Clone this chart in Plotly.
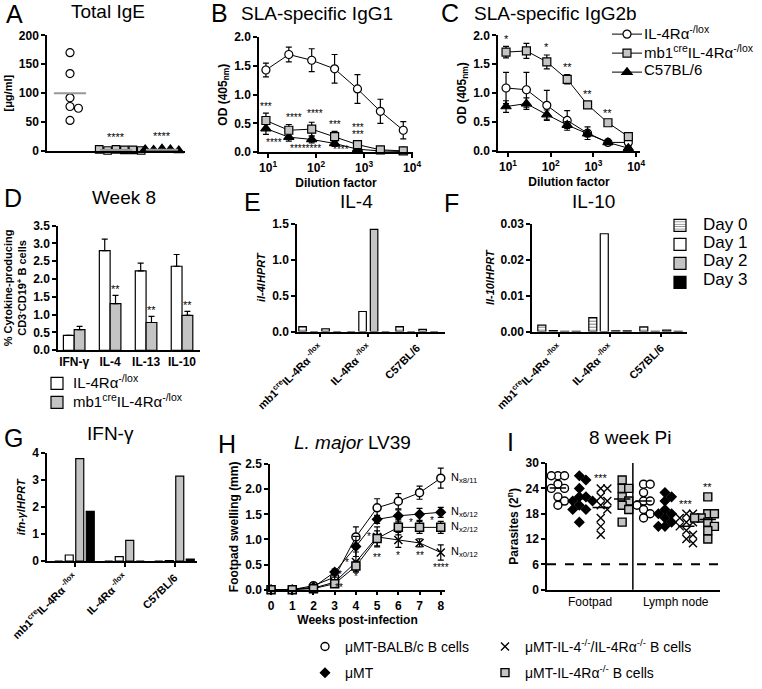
import numpy as np
import plotly.graph_objects as go

W, H = 762, 689
FONT = "Liberation Sans, Arial, sans-serif"
GREY = "#c4c4c4"

# A - total IgE (ug/ml)
ige_lox = [170, 134, 92, 77, 74, 53]
ige_mb1 = [3, 2, 1, 2, 3, 1]
ige_b6 = [4, 3, 2, 1, 3, 2]

# B / C - SLA specific IgG, OD 405nm vs dilution
dilution = [9, 27, 81, 243, 729, 2187, 6561]
igg1_lox = [1.43, 1.70, 1.60, 1.45, 1.10, 0.71, 0.38]
igg1_lox_err = [0.12, 0.13, 0.20, 0.25, 0.25, 0.21, 0.15]
igg1_mb1 = [0.55, 0.38, 0.40, 0.27, 0.13, 0.04, 0.02]
igg1_mb1_err = [0.13, 0.10, 0.12, 0.09, 0.05, 0.02, 0.01]
igg1_b6 = [0.41, 0.26, 0.22, 0.15, 0.05, 0.02, 0.01]
igg1_b6_err = [0.10, 0.07, 0.06, 0.05, 0.03, 0.01, 0.01]

igg2b_lox = [1.09, 1.06, 0.79, 0.53, 0.31, 0.15, 0.15]
igg2b_lox_err = [0.27, 0.30, 0.26, 0.17, 0.11, 0.04, 0.07]
igg2b_mb1 = [1.71, 1.73, 1.54, 1.24, 0.80, 0.49, 0.25]
igg2b_mb1_err = [0.10, 0.13, 0.12, 0.08, 0.05, 0.03, 0.03]
igg2b_b6 = [0.77, 0.82, 0.63, 0.45, 0.30, 0.15, 0.05]
igg2b_b6_err = [0.10, 0.10, 0.08, 0.06, 0.05, 0.03, 0.03]
igg2b_stars = ["*", "", "*", "**", "**", "**", ""]
genotypes = ["IL-4Rα<sup>-/lox</sup>", "mb1<sup>cre</sup>IL-4Rα<sup>-/lox</sup>", "C57BL/6"]

# D - week 8 cytokine producing B cells (%)
cytokines = ["IFN-γ", "IL-4", "IL-13", "IL-10"]
d_lox = [0.42, 2.80, 2.23, 2.36]
d_lox_err = [0.0, 0.32, 0.22, 0.33]
d_mb1 = [0.58, 1.31, 0.78, 0.98]
d_mb1_err = [0.09, 0.23, 0.17, 0.11]
d_stars = ["", "**", "**", "**"]

# E/F/G - qPCR relative to HPRT
strains = ["mb1<sup>cre</sup>IL-4Rα<sup> -/lox</sup>", "IL-4Rα<sup> -/lox</sup>", "C57BL/6"]
days = ["Day 0", "Day 1", "Day 2", "Day 3"]
il4 = [[0.07, 0.0, 0.07], [0.0, 0.28, 0.0], [0.04, 1.42, 0.03], [0.0, 0.0, 0.0]]
il10 = [[0.0018, 0.0039, 0.0013], [0.0003, 0.0272, 0.0001],
        [0.0001, 0.0002, 0.0004], [0.0001, 0.0002, 0.0001]]
ifng = [[0.0, 0.0, 0.0], [0.23, 0.17, 0.02], [3.80, 0.77, 3.15], [1.85, 0.0, 0.08]]

# H - footpad swelling (mm)
weeks = [0, 1, 2, 3, 4, 5, 6, 7, 8]
h_balb = [0, 0, 0.08, 0.25, 1.05, 1.63, 1.76, 1.93, 2.22]
h_balb_err = [0, 0, 0.03, 0.08, 0.20, 0.18, 0.15, 0.13, 0.20]
h_umt = [0, 0, 0.05, 0.35, 0.86, 1.40, 1.47, 1.50, 1.54]
h_umt_err = [0, 0, 0.02, 0.06, 0.20, 0.08, 0.12, 0.12, 0.10]
h_dko = [0, 0, 0.03, 0.15, 0.55, 1.05, 0.99, 0.93, 0.74]
h_dko_err = [0, 0, 0.02, 0.10, 0.20, 0.20, 0.15, 0.08, 0.15]
h_r = [0, 0, 0.02, 0.12, 0.47, 1.02, 1.24, 1.24, 1.24]
h_r_err = [0, 0, 0.02, 0.05, 0.10, 0.15, 0.15, 0.12, 0.12]
h_n = ["x8/11", "x6/12", "x0/12", "x2/12"]

# I - parasite burden (2^n), footpad then lymph node
fp_balb = [27, 27, 27, 25, 24, 24, 22, 21, 20]
fp_umt = [27, 26, 24, 22, 22, 21, 21, 20, 19, 19, 16]
fp_dko = [24, 24, 22, 21, 20, 19, 17, 15, 13]
fp_r = [26, 24, 24, 22, 21, 20, 19, 16]
ln_balb = [25, 25, 23, 21, 21, 20, 19, 18, 17]
ln_umt = [23, 22, 21, 19, 18, 18, 17, 16, 15, 15]
ln_dko = [18, 18, 17, 16, 16, 15, 14, 13, 12, 11]
ln_r = [22, 18, 18, 17, 17, 17, 16, 15, 14, 12]
i_stars = ["", "", "***", "", "", "", "***", "**"]


def xd(a, b):
    return [a / W, b / W]


def yd(top, bottom):
    return [1 - bottom / H, 1 - top / H]


def axis(**kw):
    base = dict(showline=True, linecolor="black", linewidth=1.5, ticks="outside",
                ticklen=4, tickwidth=1.5, tickcolor="black", showgrid=False, automargin=False,
                zeroline=False, tickfont=dict(size=12, weight="bold", color="black"))
    base.update(kw)
    return base


def swarm(vals, px_y, px_x, r):
    # simple deterministic beeswarm, returns x offsets in axis units
    placed, offs = [], []
    cands = [0]
    for i in range(1, 15):
        cands += [i * r, -i * r]
    for v in vals:
        y = v * px_y
        for c in cands:
            if all((c - a) ** 2 + (y - b) ** 2 >= (1.7 * r) ** 2 for a, b in placed):
                break
        placed.append((c, y))
        offs.append(c / px_x)
    return offs


def txt(text, x, y, xref, yref, size=11, xanchor="center", **kw):
    return dict(text=text, x=x, y=y, xref=xref, yref=yref, showarrow=False, xanchor=xanchor,
                align=xanchor if xanchor != "center" else "center", borderpad=0,
                yanchor="middle", font=dict(size=size, color="black"), **kw)


def ptxt(text, xpx, ypx, size, xanchor="center"):
    return txt(text, xpx / W, 1 - ypx / H, "paper", "paper", size=size, xanchor=xanchor)


fig = go.Figure()
ann = []
err = dict(type="data", color="black", thickness=1.2, width=3)

# ---------- A
for i, (vals, sym, col, sz) in enumerate([(ige_lox, "circle", "white", 8),
                                          (ige_mb1, "square", GREY, 7.5),
                                          (ige_b6, "triangle-up", "black", 9)]):
    offs = swarm(vals, 118 / 200, 46, 4.2)
    fig.add_trace(go.Scatter(x=[i + o for o in offs], y=vals, mode="markers",
                             marker=dict(symbol=sym, size=sz, color=col, line=dict(color="black", width=1.2)),
                             xaxis="x", yaxis="y", showlegend=False, cliponaxis=False))
    m = float(np.mean(vals))
    fig.add_trace(go.Scatter(x=[i - 0.35, i + 0.35], y=[m, m], mode="lines",
                             line=dict(color="#999999", width=2), xaxis="x", yaxis="y",
                             showlegend=False, cliponaxis=False))
    if i > 0:
        ann.append(txt("****", i, max(vals) + 22, "x", "y"))


# ---------- B and C
def curve(xa, ya, y, e, sym, col, sz, show):
    return go.Scatter(x=dilution, y=y, error_y=dict(err, array=e), mode="lines+markers",
                      line=dict(color="black", width=1),
                      marker=dict(symbol=sym, size=sz, color=col, line=dict(color="black", width=1.2)),
                      name="", showlegend=show, legend="legend", xaxis=xa, yaxis=ya, cliponaxis=False)


fig.add_trace(curve("x2", "y2", igg1_b6, igg1_b6_err, "triangle-up", "black", 9, False))
fig.add_trace(curve("x2", "y2", igg1_mb1, igg1_mb1_err, "square", GREY, 8, False))
fig.add_trace(curve("x2", "y2", igg1_lox, igg1_lox_err, "circle", "white", 8, False))
fig.add_trace(curve("x3", "y3", igg2b_lox, igg2b_lox_err, "circle", "white", 8, True))
fig.add_trace(curve("x3", "y3", igg2b_mb1, igg2b_mb1_err, "square", GREY, 8, True))
fig.add_trace(curve("x3", "y3", igg2b_b6, igg2b_b6_err, "triangle-up", "black", 9, True))
for k, g in enumerate(genotypes):
    ann.append(ptxt(g, 643, 33 + 19 * k, 15, "left"))

b_stars = [("***", 9, 0.80), ("****", 34, 0.61), ("****", 95, 0.67), ("***", 250, 0.48),
           ("***", 760, 0.43), ("***", 760, 0.30), ("****", 13, 0.17), ("********", 60, 0.07),
           ("****", 330, 0.05)]
for t, x, y in b_stars:
    ann.append(txt(t, np.log10(x), y, "x2", "y2", size=10))
for d, s, v, e in zip(dilution, igg2b_stars, igg2b_mb1, igg2b_mb1_err):
    if s:
        ann.append(txt(s, np.log10(d), v + e + 0.13, "x3", "y3"))

# ---------- D
fig.add_trace(go.Bar(x=cytokines, y=d_lox, width=0.3, offset=-0.3, name="",
                     marker=dict(color="white", line=dict(color="black", width=1.2)),
                     error_y=dict(err, array=d_lox_err, arrayminus=[0] * 4, symmetric=False),
                     xaxis="x4", yaxis="y4", legend="legend2"))
fig.add_trace(go.Bar(x=cytokines, y=d_mb1, width=0.3, offset=0.0, name="",
                     marker=dict(color=GREY, line=dict(color="black", width=1.2)),
                     error_y=dict(err, array=d_mb1_err, arrayminus=[0] * 4, symmetric=False),
                     xaxis="x4", yaxis="y4", legend="legend2"))
for k, g in enumerate(genotypes[:2]):
    ann.append(ptxt(g, 72, 389 + 19 * k, 15, "left"))
for c, s, v, e in zip(cytokines, d_stars, d_mb1, d_mb1_err):
    if s:
        ann.append(txt(s, c, v + e + 0.17, "x4", "y4", xshift=5))

# ---------- E / F / G
day_fill = ["white", "white", GREY, "black"]
for xa, ya, data, slot, bw in [("x5", "y5", il4, 0.237, 0.155), ("x6", "y6", il10, 0.225, 0.157),
                               ("x7", "y7", ifng, 0.21, 0.16)]:
    for k in range(4):
        pat = dict(shape="-", fgcolor="black", bgcolor="white", size=3, solidity=0.35) if k == 0 else None
        fig.add_trace(go.Bar(x=strains, y=data[k], width=bw, offset=(k - 2) * slot + (slot - bw) / 2,
                             name="", legend="legend3", showlegend=(xa == "x6"),
                             marker=dict(color=day_fill[k], line=dict(color="black", width=1.2), pattern=pat),
                             xaxis=xa, yaxis=ya, cliponaxis=False))
for k, d in enumerate(days):
    ann.append(ptxt(d, 702, 229 + 18.5 * k, 17, "left"))

# ---------- H
h_series = [(h_balb, h_balb_err, "circle", "white", 8), (h_umt, h_umt_err, "diamond", "black", 7),
            (h_dko, h_dko_err, "x-thin", "black", 8), (h_r, h_r_err, "square", GREY, 8)]
for (y, e, sym, col, sz), n in zip(h_series, h_n):
    fig.add_trace(go.Scatter(x=weeks, y=y, error_y=dict(err, array=e), mode="lines+markers",
                             line=dict(color="black", width=1),
                             marker=dict(symbol=sym, size=sz, color=col, line=dict(color="black", width=1.5)),
                             xaxis="x8", yaxis="y8", showlegend=False, cliponaxis=False))
    ann.append(txt("N<sub>" + n + "</sub>", weeks[-1], y[-1], "x8", "y8", xshift=9, xanchor="left"))
h_stars = [("*", 3.25, 0.31), ("**", 3.2, 0.05), ("*", 3.6, 0.55), ("*", 4.0, 0.27), ("*", 4.6, 1.05),
           ("**", 5.0, 0.64), ("*", 6.0, 0.68), ("*", 6.6, 1.33), ("**", 7.0, 0.68), ("*", 7.6, 1.37),
           ("****", 8.0, 0.45)]
for t, x, y in h_stars:
    ann.append(txt(t, x, y, "x8", "y8", size=10))

# ---------- I
i_groups = [fp_balb, fp_umt, fp_dko, fp_r, ln_balb, ln_umt, ln_dko, ln_r]
i_style = [("circle", "white", 8, "μMT-BALB/c B cells", "legend4"),
           ("diamond", "black", 7, "μMT", "legend4"),
           ("x-thin", "black", 8, "μMT-IL-4<sup>-/-</sup>/IL-4Rα<sup>-/-</sup> B cells", "legend5"),
           ("square", GREY, 8, "μMT-IL-4Rα<sup>-/-</sup> B cells", "legend5")]
for j, (sym, col, sz, name, lg) in enumerate(i_style):
    xs, ys = [], []
    for g in (j, j + 4):
        offs = swarm(i_groups[g], 129 / 30, 21.4, 3.3)
        xs += [g + o for o in offs]
        ys += i_groups[g]
    fig.add_trace(go.Scatter(x=xs, y=ys, mode="markers", name=name, legend=lg, legendgroup=name,
                             marker=dict(symbol=sym, size=sz, color=col, line=dict(color="black", width=1.4)),
                             xaxis="x9", yaxis="y9", cliponaxis=False))
for g, vals in enumerate(i_groups):
    m = float(np.mean(vals))
    fig.add_trace(go.Scatter(x=[g - 0.38, g + 0.38], y=[m, m], mode="lines", line=dict(color="black", width=1.5),
                             xaxis="x9", yaxis="y9", showlegend=False))
    if i_stars[g]:
        ann.append(txt(i_stars[g], g, max(vals) + 2.4, "x9", "y9"))

# ---------- panel letters and titles
for t, x, y in [("A", 14, 14), ("B", 219, 13), ("C", 450, 13), ("D", 13, 202), ("E", 252, 206),
                ("F", 451, 207), ("G", 13, 446), ("H", 227, 453), ("I", 510, 451)]:
    ann.append(ptxt(t, x, y, 25))
for t, x, y in [("Total IgE", 108, 12), ("SLA-specific IgG1", 317, 14), ("SLA-specific IgG2b", 555, 14),
                ("Week 8", 124, 201), ("IL-4", 356, 205), ("IL-10", 593, 205), ("IFN-γ", 110, 442),
                ("<i>L. major</i> LV39", 352, 451), ("8 week Pi", 630, 446)]:
    ann.append(ptxt(t, x, y, 19))

tb = dict(size=11, weight="bold", color="black")
tb12 = dict(size=12, weight="bold", color="black")
log_ticks = [10, 100, 1000, 10000]
log_text = ["10<sup>1</sup>", "10<sup>2</sup>", "10<sup>3</sup>", "10<sup>4</sup>"]
cat_ticks = dict(tickangle=-45, tickfont=dict(size=11, weight="bold", color="black"))
keys = dict(xanchor="left", yanchor="top", font=dict(size=11), bgcolor="rgba(0,0,0,0)")

fig.update_layout(
    width=W, height=H, autosize=False, margin=dict(l=0, r=0, t=0, b=0),
    paper_bgcolor="white", plot_bgcolor="white", barmode="overlay",
    font=dict(family=FONT, color="black"),
    annotations=ann,
    xaxis=axis(domain=xd(47, 185), range=[-0.5, 2.5], anchor="y", ticks="", showticklabels=False),
    yaxis=axis(domain=yd(36, 154), range=[0, 200], anchor="x", dtick=50,
               title=dict(text="[μg/ml]", font=tb, standoff=4)),
    xaxis2=axis(domain=xd(259, 413), type="log", range=[0.81, 4.02], anchor="y2",
                tickvals=log_ticks, ticktext=log_text,
                title=dict(text="Dilution factor", font=tb12, standoff=4)),
    yaxis2=axis(domain=yd(38, 155), range=[0, 2.0], anchor="x2", dtick=0.5, tickformat=".1f",
                title=dict(text="OD (405<sub>nm</sub>)", font=tb12, standoff=4)),
    xaxis3=axis(domain=xd(498, 640), type="log", range=[0.766, 4.09], anchor="y3",
                tickvals=log_ticks, ticktext=log_text,
                title=dict(text="Dilution factor", font=tb12, standoff=4)),
    yaxis3=axis(domain=yd(36, 154), range=[0, 2.0], anchor="x3", dtick=0.5, tickformat=".1f",
                title=dict(text="OD (405<sub>nm</sub>)", font=tb12, standoff=4)),
    xaxis4=axis(domain=xd(58, 200), range=[-0.45, 3.5], anchor="y4", ticks=""),
    yaxis4=axis(domain=yd(230, 357), range=[0, 3.5], anchor="x4", dtick=0.5, tickformat=".1f",
                title=dict(text="% Cytokine-producing<br>CD3<sup>-</sup>CD19<sup>+</sup> B cells",
                           font=tb, standoff=4)),
    xaxis5=axis(domain=xd(297, 445), range=[-0.47, 2.58], anchor="y5", **cat_ticks),
    yaxis5=axis(domain=yd(228, 338), range=[0, 1.5], anchor="x5", dtick=0.5, tickformat=".1f",
                title=dict(text="<i>il-4</i>/<i>HPRT</i>", font=tb, standoff=4)),
    xaxis6=axis(domain=xd(532, 687), range=[-0.53, 2.51], anchor="y6", **cat_ticks),
    yaxis6=axis(domain=yd(228, 338), range=[0, 0.03], anchor="x6", dtick=0.01, tickformat=".2f",
                title=dict(text="<i>Il-10</i>/<i>HPRT</i>", font=tb, standoff=4)),
    xaxis7=axis(domain=xd(47, 197), range=[-0.55, 2.45], anchor="y7", **cat_ticks),
    yaxis7=axis(domain=yd(462, 572), range=[0, 4], anchor="x7", dtick=1,
                title=dict(text="<i>ifn-γ</i>/<i>HPRT</i>", font=tb, standoff=4)),
    xaxis8=axis(domain=xd(270, 445), range=[-0.05, 8.2], anchor="y8", dtick=1,
                title=dict(text="Weeks post-infection", font=tb12, standoff=2)),
    yaxis8=axis(domain=yd(473, 601), range=[0, 2.5], anchor="x8", dtick=0.5, tickformat=".1f",
                title=dict(text="Footpad swelling (mm)", font=tb12, standoff=4)),
    xaxis9=axis(domain=xd(547, 720), range=[-0.51, 7.57], anchor="y9", ticks="",
                tickvals=[1.5, 5.5], ticktext=["Footpad", "Lymph node"], tickfont=dict(size=12)),
    yaxis9=axis(domain=yd(472, 601), range=[0, 30], anchor="x9", dtick=6,
                title=dict(text="Parasites (2<sup>n</sup>)", font=tb12, standoff=4)),
    legend=dict(keys, x=607 / W, y=1 - 20 / H),
    legend2=dict(keys, x=37 / W, y=1 - 376 / H),
    legend3=dict(keys, x=660 / W, y=1 - 215 / H),
    legend4=dict(x=305 / W, y=1 - 643 / H, xanchor="left", yanchor="top", font=dict(size=14),
                 bgcolor="rgba(0,0,0,0)", tracegroupgap=5),
    legend5=dict(x=485 / W, y=1 - 643 / H, xanchor="left", yanchor="top", font=dict(size=14),
                 bgcolor="rgba(0,0,0,0)", tracegroupgap=5),
    shapes=[
        dict(type="line", xref="x9", yref="y9 domain", x0=3.5, x1=3.5, y0=0, y1=1,
             line=dict(color="black", width=1.5)),
        dict(type="line", xref="x9 domain", yref="y9", x0=0, x1=1, y0=6, y1=6,
             line=dict(color="black", width=2, dash="dash")),
    ],
)

# the page gets no body margin so the figure sits at the window's top-left corner
fig.write_html("out.html", config={"displayModeBar": False},
               post_script="document.body.style.margin='0px';")
